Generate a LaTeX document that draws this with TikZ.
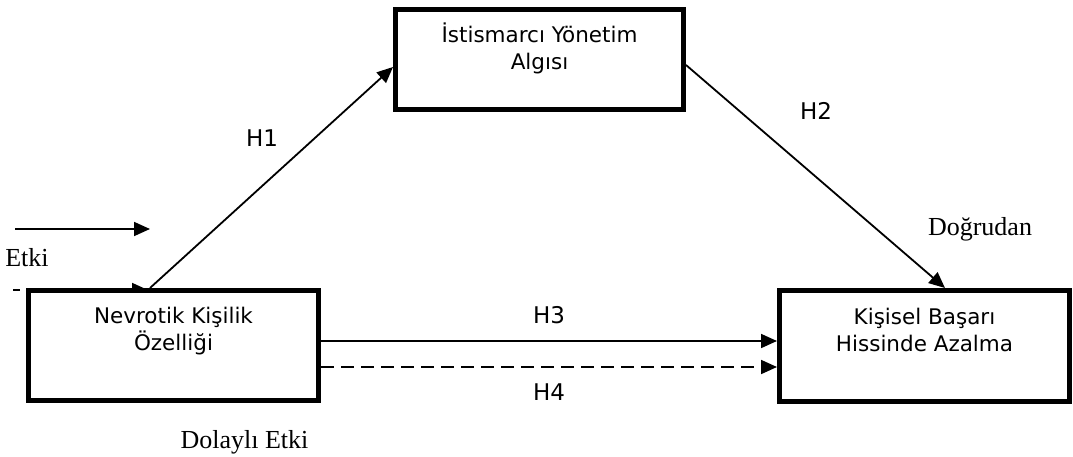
\documentclass[tikz,border=0pt]{standalone}
\usepackage{fontspec}
\setmainfont{Liberation Serif}
\newfontfamily\dejavu{DejaVu Sans}
\usetikzlibrary{arrows.meta,calc}
\begin{document}
\begin{tikzpicture}[x=1pt,y=-1pt,
  box/.style={draw,line width=5pt,fill=white,inner sep=0pt,rectangle},
  boxtext/.style={font=\dejavu\fontsize{21.5}{27}\selectfont,align=center,anchor=base,inner sep=0pt},
  hlab/.style={font=\dejavu\fontsize{23}{27}\selectfont,inner sep=0pt},
  serlab/.style={font=\fontsize{26}{30}\selectfont,inner sep=0pt,anchor=base},
  arr/.style={line width=1.8pt,-{Triangle[length=16pt,width=14pt]}},
  dsh/.style={dash pattern=on 13pt off 7pt}]
\useasboundingbox (0,0) rectangle (1073,457);
% legend arrows
\coordinate (ls) at (15,229);
\coordinate (le) at (150,229);
\draw[arr] (ls) -- (le);
\coordinate (ds) at (13,290);
\coordinate (de) at (148,290);
\draw[arr,dsh,dash phase=6pt] (ds) -- (de);
% boxes
\node[box,minimum width=290pt,minimum height=110pt] (A) at (173.5,345.5) {};
\node[box,minimum width=288pt,minimum height=100pt] (B) at (539.5,59.5) {};
\node[box,minimum width=290pt,minimum height=111pt] (C) at (924.5,346) {};
\node[boxtext] (At) at ($(A.north)+(0,62)$) {Nevrotik Kişilik\\Özelliği};
\node[boxtext] (Bt) at ($(B.north)+(0,63)$) {İstismarcı Yönetim\\Algısı};
\node[boxtext] (Ct) at ($(C.north)+(0,63)$) {Kişisel Başarı\\Hissinde Azalma};
% connectors
\draw[arr] ($(A.north west)+(124,0)$) -- ($(B.north west)+(0,60)$);
\draw[arr] ($(B.north east)+(0,58)$) -- ($(C.north west)+(168,0)$);
\draw[arr] ($(A.north east)+(0,53)$) -- ($(C.north west)+(0,53)$);
\draw[arr,dsh] ($(A.north east)+(0,79)$) -- ($(C.north west)+(0,79)$);
% labels
\node[hlab] (h1) at (262,138) {H1};
\node[hlab] (h2) at (816,111) {H2};
\node[hlab] (h3) at (549,315) {H3};
\node[hlab] (h4) at (549,392) {H4};
\node[serlab] (etki) at (27,266) {Etki};
\node[serlab] (dog) at (980,235) {Doğrudan};
\node[serlab] (dol) at (244.5,448) {Dolaylı Etki};
\end{tikzpicture}
\end{document}
